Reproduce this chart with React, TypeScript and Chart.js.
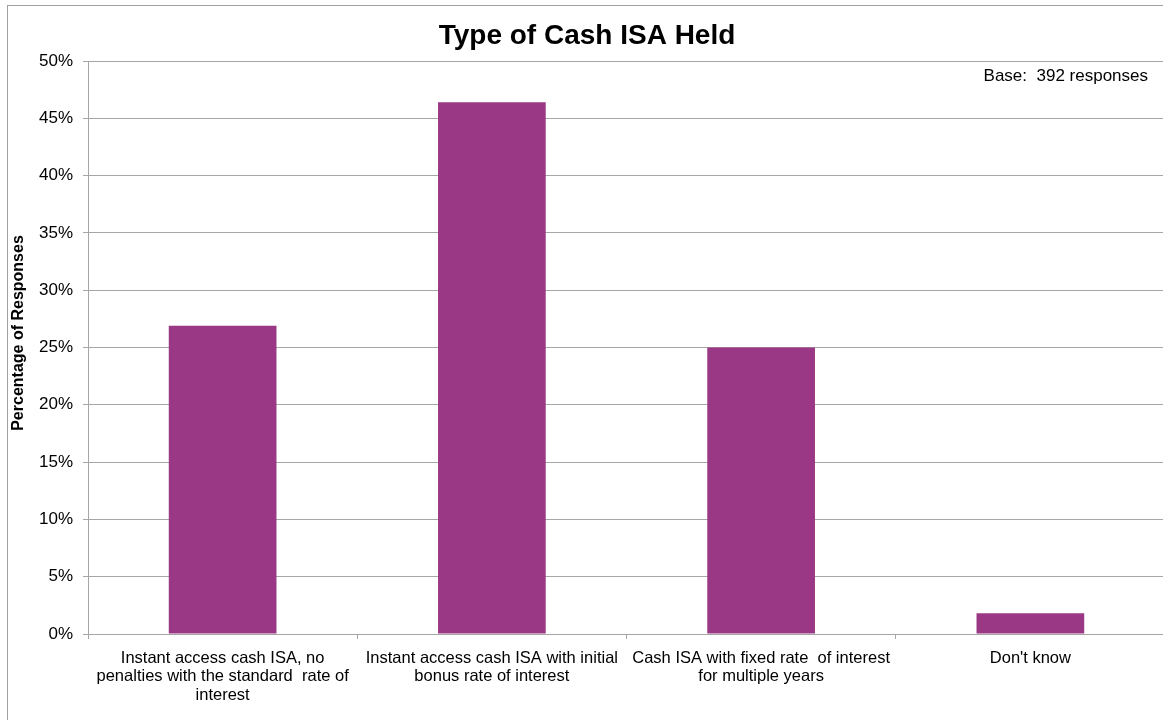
import React, { useEffect, useRef } from "react";
import { Chart, registerables } from "chart.js";

Chart.register(...registerables);

const categories: string[][] = [
  ["Instant access cash ISA, no", "penalties with the standard  rate of", "interest"],
  ["Instant access cash ISA with initial", "bonus rate of interest"],
  ["Cash ISA with fixed rate  of interest", "for multiple years"],
  ["Don't know"],
];
const values: number[] = [26.9, 46.4, 25.0, 1.8];
const yTicks: number[] = [0, 5, 10, 15, 20, 25, 30, 35, 40, 45, 50];

const chartTitle = "Type of Cash ISA Held";
const yTitle = "Percentage of Responses";
const baseNote = "Base:  392 responses";

const FONT = "'Liberation Sans', Arial, sans-serif";
const GRID = "#a6a6a6";
const CW = 1175;
const CH = 720;

export default function App() {
  const ref = useRef<HTMLCanvasElement | null>(null);
  useEffect(() => {
    if (!ref.current) return;
    const decor = {
      id: "decor",
      beforeDraw(chart: any) {
        const ctx = chart.ctx;
        ctx.save();
        ctx.fillStyle = "#ffffff";
        ctx.fillRect(0, 0, chart.width, chart.height);
        ctx.strokeStyle = "#a0a0a0";
        ctx.lineWidth = 1;
        ctx.strokeRect(7.5, 5.5, 1200, 800);
        ctx.restore();
      },
      afterDraw(chart: any) {
        const ctx = chart.ctx;
        ctx.save();
        ctx.fillStyle = "#000";
        ctx.textAlign = "center";
        ctx.textBaseline = "middle";
        ctx.font = `bold 28px ${FONT}`;
        ctx.fillText(chartTitle, 587, 36);
        ctx.font = `17px ${FONT}`;
        ctx.textAlign = "right";
        ctx.fillText(baseNote, 1148, 76);
        ctx.translate(19, 333);
        ctx.rotate(-Math.PI / 2);
        ctx.textAlign = "center";
        ctx.font = `bold 16px ${FONT}`;
        ctx.fillText(yTitle, 0, 0);
        ctx.restore();
      },
    };
    const chart = new Chart(ref.current, {
      type: "bar",
      data: {
        labels: categories,
        datasets: [
          {
            data: values,
            backgroundColor: "#9b3885",
            borderWidth: 0,
            barPercentage: 0.4,
            categoryPercentage: 1,
          },
        ],
      },
      options: {
        responsive: false,
        animation: false,
        devicePixelRatio: 1,
        layout: { padding: { top: 61, left: 0, right: CW - 1165, bottom: 0 } },
        plugins: {
          legend: { display: false },
          tooltip: { enabled: false },
          title: { display: false },
        },
        scales: {
          x: {
            afterFit: (s: any) => {
              s.height = CH - 634;
            },
            grid: {
              offset: true,
              drawOnChartArea: false,
              drawTicks: true,
              tickLength: 5,
              color: GRID,
            },
            border: { display: true, color: GRID },
            ticks: {
              color: "#000",
              font: { family: FONT, size: 16.5, lineHeight: 1.12 },
              maxRotation: 0,
              minRotation: 0,
              autoSkip: false,
              padding: 10,
            },
          },
          y: {
            min: 0,
            max: 50,
            afterFit: (s: any) => {
              s.width = 88;
            },
            afterBuildTicks: (s: any) => {
              s.ticks = yTicks.map((v) => ({ value: v }));
            },
            grid: { color: GRID, tickLength: 5, drawTicks: true },
            border: { display: true, color: GRID },
            ticks: {
              color: "#000",
              font: { family: FONT, size: 17 },
              padding: 10,
              callback: (v: any) => `${v}%`,
            },
          },
        },
      },
      plugins: [decor],
    });
    return () => chart.destroy();
  }, []);
  return (
    <div
      style={{
        position: "absolute",
        left: 0,
        top: 0,
        width: 1163,
        height: 720,
        overflow: "hidden",
        background: "#fff",
      }}
    >
      <canvas ref={ref} width={CW} height={CH} style={{ display: "block" }} />
    </div>
  );
}
